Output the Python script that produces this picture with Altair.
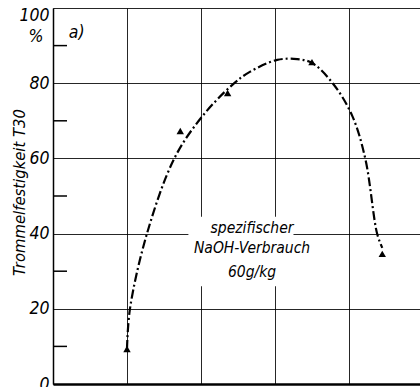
import altair as alt
import pandas as pd

# --- data ---
pts_x = [1.00, 1.72, 2.36, 3.50, 4.45]
pts_y = [9.3, 67.3, 77.4, 85.6, 34.6]

curve_x = [1.00, 1.04, 1.27, 1.64, 2.01, 2.42, 2.66, 3.03, 3.30, 3.50, 3.78, 4.04, 4.22, 4.38, 4.45]
curve_y = [9.3, 20.0, 40.0, 60.0, 71.0, 79.5, 83.0, 86.2, 86.4, 85.4, 80.0, 71.5, 60.0, 40.0, 36.2]

y_major = [0, 20, 40, 60, 80, 100]
y_minor = [10, 30, 50, 70, 90]
x_grid = [0, 1, 2, 3, 4]

note_lines = ["spezifischer", "NaOH-Verbrauch", "60g/kg"]
note_x = [2.69, 2.69, 2.69]
note_y = [41.6, 36.2, 29.8]

box_x = [1.83]
box_x2 = [3.25]
box_y = [26.0]
box_y2 = [44.5]

extra_text = ["%", "a)"]
extra_x = [-0.23, 0.32]
extra_y = [92.4, 93.3]

FONT = "Liberation Sans Narrow, DejaVu Sans Condensed, Roboto Condensed, DejaVu Sans, sans-serif"

xs = alt.Scale(domain=[0, 4.96], nice=False, zero=False)
ys = alt.Scale(domain=[0, 100], nice=False)

curve_df = pd.DataFrame({"x": curve_x, "y": curve_y})
pts_df = pd.DataFrame({"x": pts_x, "y": pts_y})
note_df = pd.DataFrame({"t": note_lines, "x": note_x, "y": note_y})
box_df = pd.DataFrame({"x": box_x, "x2": box_x2, "y": box_y, "y2": box_y2})
minor_df = pd.DataFrame({"y": y_minor})
extra_df = pd.DataFrame({"t": extra_text, "x": extra_x, "y": extra_y})

x_axis = alt.Axis(values=x_grid, labels=False, ticks=False, title=None, grid=True,
                  gridColor="black", gridWidth=1, gridOpacity=0.85,
                  domain=True, domainColor="black", domainWidth=2.5)
y_axis = alt.Axis(values=y_major, ticks=False, grid=True, gridColor="black", gridWidth=1,
                  gridOpacity=0.85,
                  domain=True, domainColor="black", domainWidth=1.5,
                  labelFont=FONT, labelFontSize=17.5, labelFontStyle="italic", labelColor="black",
                  labelPadding=4, labelFlush=False,
                  labelBaseline={"condition": {"test": "datum.value == 100", "value": "top"},
                                 "value": "middle"},
                  labelOffset={"condition": {"test": "datum.value == 100", "value": -2},
                               "value": 0},
                  title="Trommelfestigkeit T30", titleFont=FONT, titleFontSize=16.5,
                  titleFontStyle="italic", titleFontWeight="normal", titleColor="black",
                  titleX=-34, titleY=184, titleAlign="center", titleBaseline="middle", titleAngle=270)

base = alt.Chart(curve_df)

grid_layer = base.mark_line(opacity=0).encode(
    x=alt.X("x:Q", scale=xs, axis=x_axis),
    y=alt.Y("y:Q", scale=ys, axis=y_axis),
)

box = alt.Chart(box_df).mark_rect(color="white").encode(
    x=alt.X("x:Q", scale=xs), x2="x2:Q", y=alt.Y("y:Q", scale=ys), y2="y2:Q"
)

minor = alt.Chart(minor_df).mark_rule(color="black", strokeWidth=1.5).encode(
    y=alt.Y("y:Q", scale=ys), x=alt.value(0), x2=alt.value(14)
)

curve = base.mark_line(color="black", strokeWidth=2.2, strokeDash=[9, 3, 2, 3],
                       interpolate="catmull-rom").encode(
    x=alt.X("x:Q", scale=xs), y=alt.Y("y:Q", scale=ys)
)

pts = alt.Chart(pts_df).mark_point(shape="triangle-up", filled=True, size=55,
                                   color="black", opacity=1).encode(
    x=alt.X("x:Q", scale=xs), y=alt.Y("y:Q", scale=ys)
)

note = alt.Chart(note_df).mark_text(font=FONT, fontSize=15.5, fontStyle="italic",
                                    color="black", align="center", baseline="middle").encode(
    x=alt.X("x:Q", scale=xs), y=alt.Y("y:Q", scale=ys), text="t:N"
)

extra = alt.Chart(extra_df).mark_text(font=FONT, fontSize=17.5, fontStyle="italic",
                                      color="black", align="center", baseline="middle").encode(
    x=alt.X("x:Q", scale=xs), y=alt.Y("y:Q", scale=ys), text="t:N"
)

chart = alt.layer(grid_layer, box, minor, curve, pts, note, extra).properties(
    width=367, height=376,
    autosize=alt.AutoSizeParams(type="none"),
    padding={"left": 53, "top": 8, "right": 0, "bottom": 3},
    background="white",
).configure_view(stroke=None)

chart.save("out.html", embed_options={"renderer": "svg", "actions": False})
